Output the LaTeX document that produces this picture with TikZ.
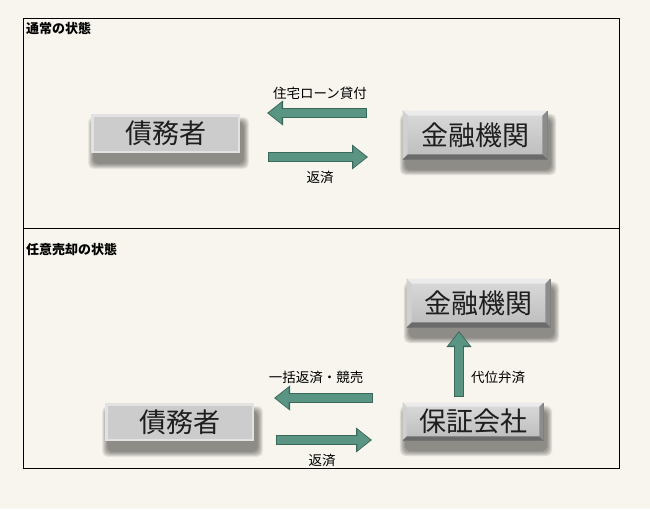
\documentclass[tikz,border=0pt]{standalone}
\usepackage{fontspec}
\setmainfont{Noto Sans CJK JP}
\usepackage{tikz}
\usetikzlibrary{arrows.meta, positioning}

\pgfdeclarelayer{paperlayer}
\pgfdeclarelayer{shadowlayer}
\pgfsetlayers{paperlayer,shadowlayer,main}

\definecolor{paper}{HTML}{F8F5EE}
\definecolor{flowfill}{HTML}{5A9483}
\definecolor{flowedge}{HTML}{3A685B}
\definecolor{metaltop}{HTML}{DADADA}
\definecolor{metalbot}{HTML}{BCBCBC}
\definecolor{metaledge}{HTML}{7A7A7A}
\definecolor{plainfill}{HTML}{CCCCCC}
\definecolor{plainedge}{HTML}{E2E2E2}
\definecolor{inktext}{HTML}{1E1E1E}

\newcommand{\bigjp}{\fontsize{27}{30}\selectfont}

% bevelled rim round a metal box
\newcommand{\bevelnode}[2][5]{%
  \fill[white!92!black] (#2.north west) -- (#2.north east) -- ([shift={(-#1,#1)}]#2.north east) -- ([shift={(#1,#1)}]#2.north west) -- cycle;
  \fill[white!82!black] (#2.north west) -- ([shift={(#1,#1)}]#2.north west) -- ([shift={(#1,-#1)}]#2.south west) -- (#2.south west) -- cycle;
  \fill[white!55!black] (#2.north east) -- ([shift={(-#1,#1)}]#2.north east) -- ([shift={(-#1,-#1)}]#2.south east) -- (#2.south east) -- cycle;
  \fill[white!42!black] (#2.south west) -- (#2.south east) -- ([shift={(-#1,-#1)}]#2.south east) -- ([shift={(#1,-#1)}]#2.south west) -- cycle;
}

% soft shadow under a box, built from stacked faint rectangles
\newcommand{\softshadow}[1]{%
  \begin{pgfonlayer}{shadowlayer}
    \foreach \k in {0,...,11}
      \fill[black, opacity=0.045, rounded corners=5pt]
        ([shift={(-3+\k/2,3+\k/2)}]#1.north west) rectangle ([shift={(9-\k/2,16-\k/2)}]#1.south east);
  \end{pgfonlayer}
}

\tikzset{
  title/.style={anchor=west, inner sep=0pt, font=\fontsize{13}{15}\selectfont\bfseries},
  flowtext/.style={inner sep=0pt, font=\fontsize{13.5}{15}\selectfont},
  metalbox/.style={inner sep=0pt, top color=metaltop, bottom color=metalbot, draw=metaledge, line width=0.6pt, text=inktext, font=\bigjp},
  plainbox/.style={inner sep=0pt, fill=plainfill, draw=plainedge, line width=2.5pt, text=inktext, font=\bigjp},
  flow/.style={draw=flowedge, line width=10pt, -{Triangle[width=24pt, length=16pt]},
    postaction={draw=flowfill, line width=8pt, -{Triangle[width=20pt, length=13pt]}, shorten >=1.6pt, shorten <=1pt}}
}

\begin{document}
\begin{tikzpicture}[x=1pt, y=-1pt]
  % page and frame
  \begin{pgfonlayer}{paperlayer}
    \fill[paper] (0,0) rectangle (650,509);
  \end{pgfonlayer}
  \draw[line width=1pt] (23,18) rectangle (619,468);
  \draw[line width=1pt] (23,228) -- (619,228);

  % section titles
  \node[title] (normal) at (26,29) {通常の状態};
  \node[title] (sale) at (26,250) {任意売却の状態};

  % normal state: debtor and bank
  \node[plainbox, minimum width=146.5pt, minimum height=36.5pt] (debtorA) at (165.5,133.5) {債務者};
  \softshadow{debtorA}
  \node[metalbox, minimum width=144pt, minimum height=48pt] (bankA) at (475,135) {金融機関};
  \bevelnode{bankA}
  \softshadow{bankA}

  % loan and repayment
  \coordinate (loanAs) at (367,113);
  \coordinate (loanAe) at (267,113);
  \coordinate (payAs) at (268,157);
  \coordinate (payAe) at (368,157);
  \draw[flow] (loanAs) -- (loanAe);
  \draw[flow] (payAs) -- (payAe);
  \node[flowtext] (loanAtxt) at (320,93) {住宅ローン貸付};
  \node[flowtext] (payAtxt) at (320,177) {返済};

  % voluntary sale: bank, guarantor and debtor
  \node[metalbox, minimum width=143pt, minimum height=48pt] (bankB) at (478.5,303) {金融機関};
  \bevelnode{bankB}
  \softshadow{bankB}
  \node[metalbox, minimum width=140pt, minimum height=37pt] (guarB) at (473,421.5) {保証会社};
  \bevelnode[4]{guarB}
  \softshadow{guarB}
  \node[plainbox, minimum width=146.5pt, minimum height=35.5pt] (debtorB) at (179.5,422) {債務者};
  \softshadow{debtorB}

  % subrogation, lump sum and repayment
  \coordinate (subBs) at (459,397);
  \coordinate (subBe) at (459,331);
  \coordinate (lumpBs) at (373,398);
  \coordinate (lumpBe) at (274,398);
  \coordinate (payBs) at (276,440);
  \coordinate (payBe) at (372,440);
  \draw[flow] (subBs) -- (subBe);
  \draw[flow] (lumpBs) -- (lumpBe);
  \draw[flow] (payBs) -- (payBe);
  \node[flowtext] (subBtxt) at (498,377) {代位弁済};
  \node[flowtext] (lumpBtxt) at (316,377) {一括返済・競売};
  \node[flowtext] (payBtxt) at (322,460) {返済};
\end{tikzpicture}
\end{document}
